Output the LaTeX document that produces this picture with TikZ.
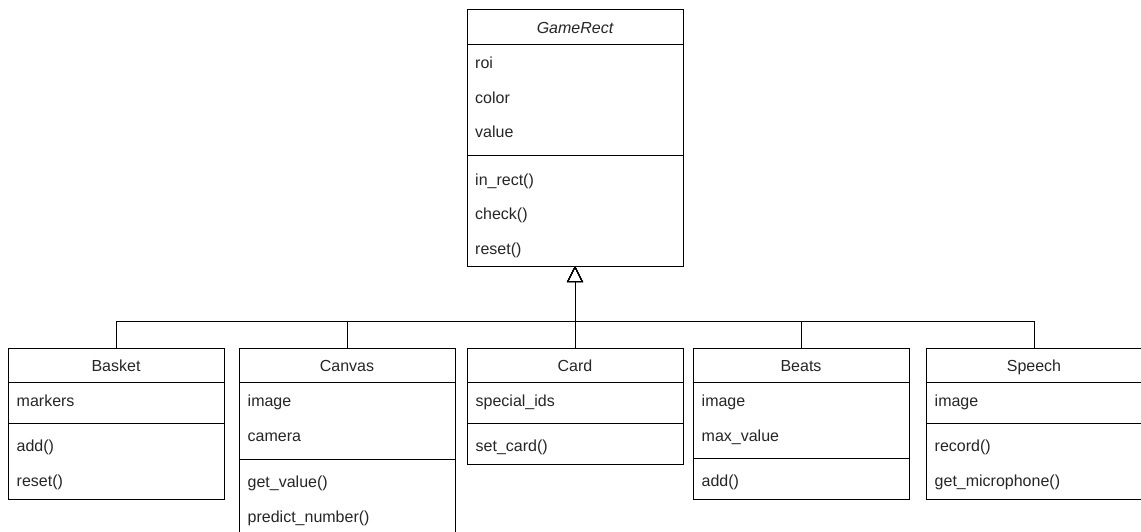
\documentclass[tikz,border=0pt]{standalone}
\usepackage{fontspec}
\setmainfont{Liberation Sans}
\usetikzlibrary{arrows.meta}
\begin{document}
\begin{tikzpicture}[x=1pt,y=-1pt,
  box/.style={draw=black, line width=1pt, fill=white, minimum width=216pt, anchor=north west, inner sep=0pt, outer sep=0pt},
  txt/.style={anchor=base west, inner sep=0pt, text=black!85, font=\fontsize{16}{19}\selectfont},
  ttl/.style={anchor=base, inner sep=0pt, text=black!85, font=\fontsize{16}{19}\selectfont},
  sepline/.style={line width=1pt},
  inh/.style={line width=1pt, -{Triangle[open, length=16pt, width=16pt, line width=1pt]}}
]
\useasboundingbox (0,0) rectangle (1141,531);
\clip (0,0) rectangle (1141,531);

% ---------- GameRect ----------
\node[box, minimum height=257pt] (gamerect) at (467,9) {};
\draw[sepline] (467,44) -- (683,44);
\draw[sepline] (467,155) -- (683,155);
\node[ttl, font=\fontsize{16}{19}\selectfont\itshape] (gtitle) at (575,33) {GameRect};
\node[txt] (g1) at (475,68.5) {roi};
\node[txt] (g2) at (475,103.2) {color};
\node[txt] (g3) at (475,137.9) {value};
\node[txt] (g4) at (475,185) {in\_rect()};
\node[txt] (g5) at (475,219.7) {check()};
\node[txt] (g6) at (475,254.4) {reset()};

% ---------- Basket ----------
\node[box, minimum height=151pt] (basket) at (8,348) {};
\draw[sepline] (8,382) -- (224,382);
\draw[sepline] (8,423) -- (224,423);
\node[ttl] (btitle) at (116,371.5) {Basket};
\node[txt] (b1) at (16.5,406.5) {markers};
\node[txt] (b2) at (16.5,451.5) {add()};
\node[txt] (b3) at (16.5,486.2) {reset()};

% ---------- Canvas ----------
\node[box, minimum height=190pt] (canvas) at (239,348) {};
\draw[sepline] (239,382) -- (455,382);
\draw[sepline] (239,459) -- (455,459);
\node[ttl] (ctitle) at (347,371.5) {Canvas};
\node[txt] (c1) at (247.5,406.5) {image};
\node[txt] (c2) at (247.5,441.2) {camera};
\node[txt] (c3) at (247.5,487.5) {get\_value()};
\node[txt] (c4) at (247.5,522.2) {predict\_number()};

% ---------- Card ----------
\node[box, minimum height=116pt] (card) at (467,348) {};
\draw[sepline] (467,382) -- (683,382);
\draw[sepline] (467,423) -- (683,423);
\node[ttl] (kt) at (575,371.5) {Card};
\node[txt] (k1) at (475.5,406.5) {special\_ids};
\node[txt] (k2) at (475.5,451.5) {set\_card()};

% ---------- Beats ----------
\node[box, minimum height=151pt] (beats) at (693,348) {};
\draw[sepline] (693,382) -- (909,382);
\draw[sepline] (693,458) -- (909,458);
\node[ttl] (et) at (801,371.5) {Beats};
\node[txt] (e1) at (701.5,406.5) {image};
\node[txt] (e2) at (701.5,441.2) {max\_value};
\node[txt] (e3) at (701.5,486.5) {add()};

% ---------- Speech ----------
\node[box, minimum height=151pt] (speech) at (926,348) {};
\draw[sepline] (926,382) -- (1142,382);
\draw[sepline] (926,423) -- (1142,423);
\node[ttl] (st) at (1034,371.5) {Speech};
\node[txt] (s1) at (934.5,406.5) {image};
\node[txt] (s2) at (934.5,451.5) {record()};
\node[txt] (s3) at (934.5,486.2) {get\_microphone()};

% ---------- inheritance ----------
\draw[inh] (basket.north) -- ++(0,-27) -| (gamerect.south);
\draw[inh] (canvas.north) -- ++(0,-27) -| (gamerect.south);
\draw[inh] (beats.north) -- ++(0,-27) -| (gamerect.south);
\draw[inh] (speech.north) -- ++(0,-27) -| (gamerect.south);
\draw[inh] (card.north) -- (gamerect.south);
\end{tikzpicture}
\end{document}
